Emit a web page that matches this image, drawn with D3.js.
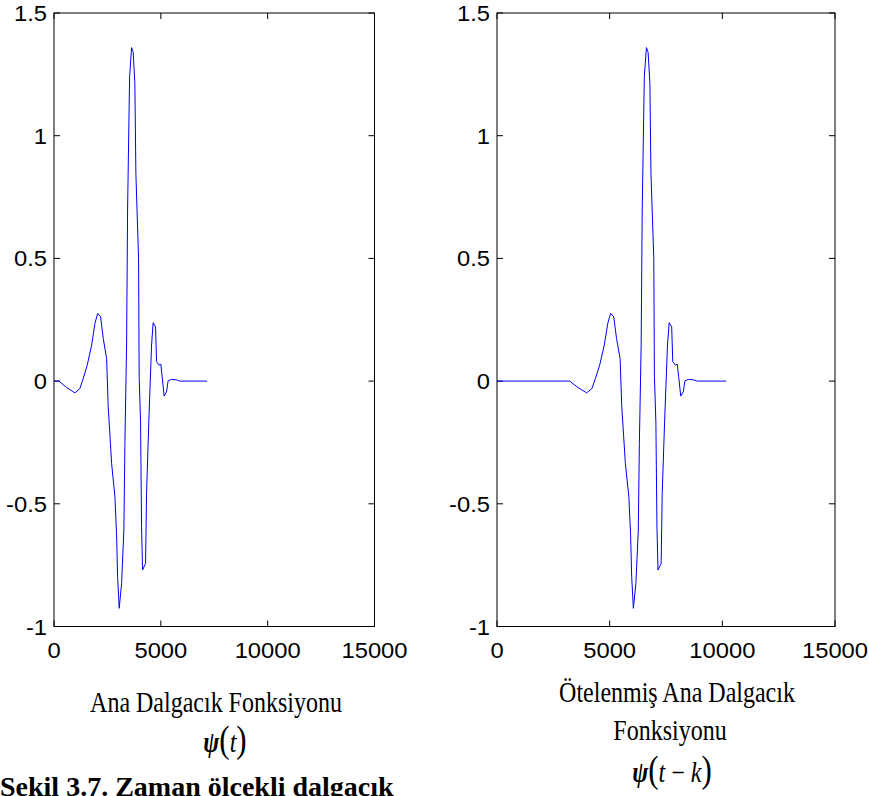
<!DOCTYPE html>
<html>
<head>
<meta charset="utf-8">
<script src="https://cdn.jsdelivr.net/npm/d3@7"></script>
<style>
  body { margin: 0; background: #fff; }
  svg { display: block; }
  .tick-label { font-family: "Liberation Sans", Arial, sans-serif; font-size: 22px; fill: #000; }
  .caption { font-family: "Liberation Serif", "Times New Roman", serif; font-size: 24px; fill: #000; }
</style>
</head>
<body>
<svg width="869" height="796"></svg>
<script>
// wavelet samples (sample index, amplitude)
let sampleIndex = [0, 230, 590, 980, 1215, 1369, 1556, 1762, 1916, 2042, 2182, 2304, 2463, 2537,
  2617, 2696, 2851, 2930, 2977, 3052, 3164, 3271, 3318, 3397, 3444, 3538, 3631, 3706, 3785, 3832,
  3958, 3986, 4052, 4098, 4145, 4285, 4332, 4440, 4566, 4641, 4753, 4800, 4921, 5000, 5061, 5155,
  5267, 5341, 5500, 5734, 5888, 7168];
let psiValues = [0, 0, -0.026, -0.048, -0.03, 0.011, 0.065, 0.147, 0.235, 0.276, 0.262, 0.174, 0.092, -0.105,
  -0.22, -0.335, -0.471, -0.627, -0.797, -0.926, -0.824, -0.607, -0.254, 0.147, 0.697, 1.24, 1.359, 1.34, 1.213, 0.846,
  0.5, 0.018, -0.17, -0.593, -0.77, -0.743, -0.457, -0.159, 0.147, 0.238, 0.221, 0.079, 0.065, 0.069, 0.018, -0.061,
  -0.044, 0.001, 0.007, 0.005, 0, 0];

// shift used for the right panel, psi(t - k)
let shiftK = 3000;

let xTicks = [0, 5000, 10000, 15000];
let yTicks = [-1, -0.5, 0, 0.5, 1, 1.5];

let svg = d3.select("svg");

let plotTop = 13, plotBottom = 626.5;

let panels = [
  { left: 54, right: 374.5, shift: 0 },
  { left: 497, right: 835, shift: shiftK }
];

panels.forEach(function(p) {
  let x = d3.scaleLinear().domain([0, 15000]).range([p.left, p.right]);
  let y = d3.scaleLinear().domain([-1, 1.5]).range([plotBottom, plotTop]);

  let pts = sampleIndex.map((t, i) => [t + p.shift, psiValues[i]]);
  if (p.shift > 0) pts.unshift([0, 0]);

  let g = svg.append("g");

  // box
  g.append("rect")
    .attr("x", p.left).attr("y", plotTop)
    .attr("width", p.right - p.left).attr("height", plotBottom - plotTop)
    .attr("fill", "none").attr("stroke", "#000").attr("stroke-width", 1);

  // inward ticks on all sides
  let tl = 6;
  yTicks.forEach(function(v) {
    g.append("line").attr("x1", p.left).attr("x2", p.left + tl)
      .attr("y1", y(v)).attr("y2", y(v)).attr("stroke", "#000");
    g.append("line").attr("x1", p.right).attr("x2", p.right - tl)
      .attr("y1", y(v)).attr("y2", y(v)).attr("stroke", "#000");
    g.append("text").attr("class", "tick-label")
      .attr("transform", "translate(" + (p.left - 7) + "," + (y(v) + 8) + ") scale(1.08,1)")
      .attr("text-anchor", "end")
      .text(v);
  });
  xTicks.forEach(function(v) {
    g.append("line").attr("x1", x(v)).attr("x2", x(v))
      .attr("y1", plotBottom).attr("y2", plotBottom - tl).attr("stroke", "#000");
    g.append("line").attr("x1", x(v)).attr("x2", x(v))
      .attr("y1", plotTop).attr("y2", plotTop + tl).attr("stroke", "#000");
    g.append("text").attr("class", "tick-label")
      .attr("transform", "translate(" + x(v) + "," + (plotBottom + 31) + ") scale(1.08,1)")
      .attr("text-anchor", "middle")
      .text(v);
  });

  g.append("path")
    .datum(pts)
    .attr("d", d3.line().x(d => x(d[0])).y(d => y(d[1])))
    .attr("fill", "none")
    .attr("stroke", "#0000ff")
    .attr("stroke-width", 1);
});

// captions
function caption(cx, cy, txt, size) {
  svg.append("text").attr("class", "caption")
    .attr("font-size", size)
    .attr("transform", "translate(" + cx + "," + cy + ") scale(1,1.2)")
    .attr("text-anchor", "middle").text(txt);
}
caption(216, 712, "Ana Dalgacık Fonksiyonu", 23);
caption(677, 702, "Ötelenmiş Ana Dalgacık", 24);
caption(670, 740, "Fonksiyonu", 25);

function psiLabel(cx, cy, arg) {
  let t = svg.append("text").attr("class", "caption")
    .attr("font-size", 25)
    .attr("transform", "translate(" + cx + "," + cy + ") scale(1,1.2)")
    .attr("text-anchor", "middle");
  t.append("tspan").attr("font-style", "italic").attr("font-weight", "bold").text("ψ");
  t.append("tspan").attr("font-size", 31).text("(");
  arg.forEach(function(a) {
    t.append("tspan").attr("font-style", a.italic ? "italic" : "normal").text(a.s);
  });
  t.append("tspan").attr("font-size", 31).text(")");
}
psiLabel(225, 752, [{ s: "t", italic: true }]);
psiLabel(672, 782, [{ s: "t", italic: true }, { s: " − ", italic: false }, { s: "k", italic: true }]);

svg.append("text")
  .attr("x", 0).attr("y", 796)
  .attr("font-family", "Liberation Serif, Times New Roman, serif")
  .attr("font-size", 28)
  .attr("font-weight", "bold")
  .text("Şekil 3.7. Zaman ölçekli dalgacık");
</script>
</body>
</html>
